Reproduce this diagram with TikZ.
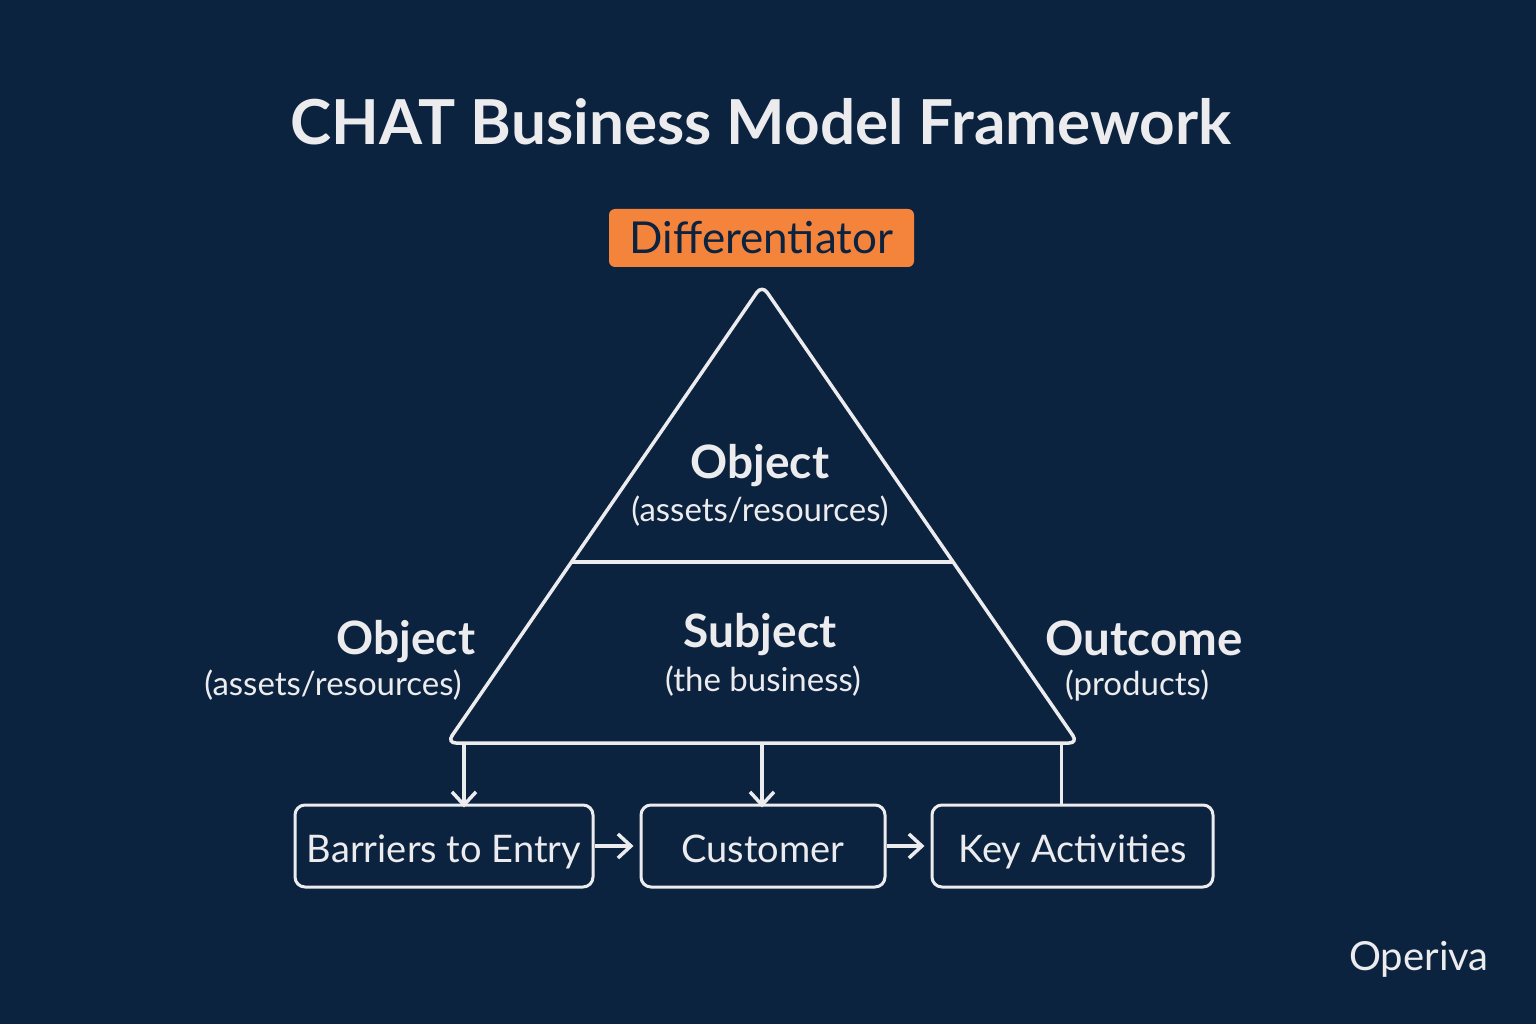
\documentclass[tikz,border=0pt]{standalone}
\usepackage{fontspec}
\setmainfont{Lato}
\usetikzlibrary{arrows.meta}
\definecolor{bg}{RGB}{12,35,64}
\definecolor{fg}{RGB}{236,236,238}
\definecolor{orng}{RGB}{244,132,60}
\newcommand{\fsz}[1]{\fontsize{#1}{#1}\selectfont}
\tikzset{
  lbl/.style={text=fg, inner sep=0pt, anchor=base},
  boxnode/.style={draw=fg, line width=3pt, rounded corners=10pt, minimum height=82pt, text=fg, inner sep=0pt, text height=32pt, text depth=0pt, font=\fsz{38}},
  conn/.style={draw=fg, line width=3.5pt, -{Straight Barb[length=13pt,width=24pt]}},
  tri/.style={draw=fg, line width=3.5pt, rounded corners=9pt}
}
\begin{document}
\begin{tikzpicture}[x=1pt,y=-1pt]
\fill[bg] (0,0) rectangle (1536,1024);
\useasboundingbox (0,0) rectangle (1536,1024);
% title
\node[lbl, font=\fsz{62}\bfseries] (title) at (761,145) {CHAT Business Model Framework};
% differentiator
\node[fill=orng, rounded corners=6pt, minimum width=305pt, minimum height=58pt, inner sep=0pt, text=bg, text height=31pt, text depth=0pt, font=\fsz{44}] (diff) at (761.5,238) {Differentiator};
% triangle
\coordinate (apex) at (762,285);
\coordinate (bl) at (447,743);
\coordinate (br) at (1078,743);
\draw[tri] (apex) -- (br) -- (bl) -- cycle;
\coordinate (ml) at (571.5,562);
\coordinate (mr) at (953,562);
\draw[fg, line width=3.5pt] (ml) -- (mr);
% labels inside
\node[lbl, font=\fsz{46}\bfseries] (obj1) at (760,478) {Object};
\node[lbl, font=\fsz{33}] (obj1s) at (760,521) {(assets/resources)};
\node[lbl, font=\fsz{46}\bfseries] (subj) at (760,647) {Subject};
\node[lbl, font=\fsz{33}] (subjs) at (763,691) {(the business)};
% side labels
\node[lbl, font=\fsz{46}\bfseries] (obj2) at (406,654) {Object};
\node[lbl, font=\fsz{33}] (obj2s) at (333,695) {(assets/resources)};
\node[lbl, font=\fsz{47.5}\bfseries] (outc) at (1144,655) {Outcome};
\node[lbl, font=\fsz{33}] (outcs) at (1137,695) {(products)};
% boxes
\node[boxnode, minimum width=298pt] (b1) at (444,846) {Barriers to Entry};
\node[boxnode, minimum width=244pt] (b2) at (763,846) {Customer};
\node[boxnode, minimum width=281pt] (b3) at (1072.5,846) {Key Activities};
% connectors
\coordinate (d1) at (464,743);
\coordinate (d2) at (762,743);
\coordinate (d3) at (1061,743);
\draw[conn] (d1) -- ([yshift=-4pt]d1|-b1.north);
\draw[conn] (d2) -- ([yshift=-4pt]d2|-b2.north);
\draw[fg, line width=3pt] (d3) -- (d3|-b3.north);
\draw[conn] (b1.east) -- ([xshift=-6pt]b2.west);
\draw[conn] (b2.east) -- ([xshift=-6pt]b3.west);
% logo
\node[lbl, font=\fsz{40}] (logo) at (1419,970) {Operiva};
\end{tikzpicture}
\end{document}
